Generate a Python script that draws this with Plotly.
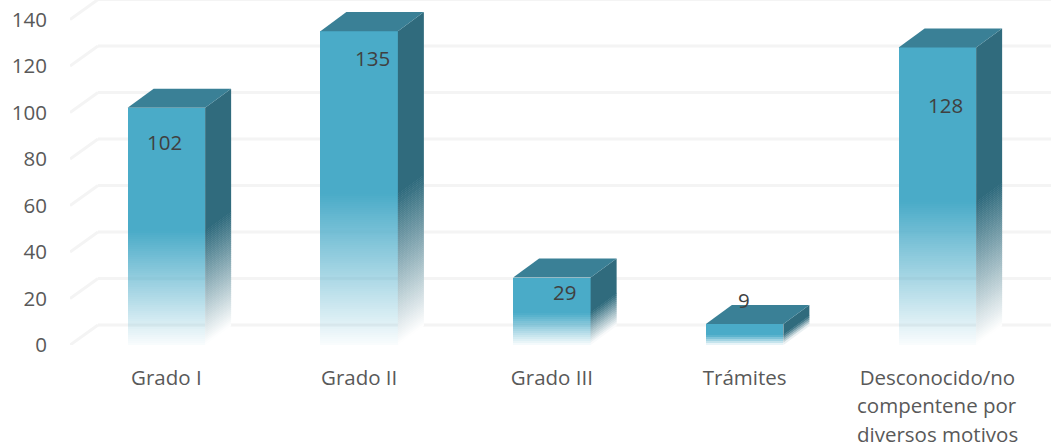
import plotly.graph_objects as go

categories = ["Grado I", "Grado II", "Grado III", "Trámites", "Desconocido/no"]
extra_lines = [[], [], [], [], ["compentene por", "diversos motivos"]]
values = [102, 135, 29, 9, 128]
y_ticks = [0, 20, 40, 60, 80, 100, 120, 140]
label_offsets = [(-2, 34), (13, 27), (13, 14), (-1, -24), (8, 58)]

W, H = 1051, 448
ML, MB = 70, 103
PX_X = 192.75
PX_Y = 2.325
X0, X1 = -0.5, -0.5 + (W - ML) / PX_X
Y1 = (H - MB) / PX_Y
BAR_W = 77.5 / PX_X
BAR_DX, BAR_DY = 26 / PX_X, 19 / PX_Y
WALL_DX, WALL_DY = 28 / PX_X, 20 / PX_Y
FADE_FROM = 0.48

FRONT = (74, 171, 200)
TOP = (58, 128, 150)
SIDE = (48, 107, 125)
TXT = "#595959"
FONT = "Open Sans"
FS = 20.5

fig = go.Figure()

# Front faces: solid upper part, stacked fading segments below
bx, by, bb, bc = [], [], [], []
for i, v in enumerate(values):
    fade_h = v * FADE_FROM
    n = max(3, round(fade_h * PX_Y / 2))
    for k in range(n):
        a = 0.03 + 0.97 * ((k + 0.5) / n)
        bx.append(i); bb.append(fade_h * k / n); by.append(fade_h / n)
        bc.append(f"rgba({FRONT[0]},{FRONT[1]},{FRONT[2]},{a:.3f})")
    bx.append(i); bb.append(fade_h); by.append(v - fade_h)
    bc.append(f"rgb({FRONT[0]},{FRONT[1]},{FRONT[2]})")
fig.add_trace(go.Bar(x=bx, y=by, base=bb, width=BAR_W, marker=dict(color=bc, line=dict(width=0)),
                     hoverinfo="skip", showlegend=False))


def poly(xs, ys, color):
    fig.add_trace(go.Scatter(x=xs, y=ys, mode="lines", fill="toself", fillcolor=color,
                             line=dict(width=0), hoverinfo="skip", showlegend=False))


def blend(c, a):
    return "rgb(%d,%d,%d)" % tuple(round(255 + (p - 255) * a) for p in c)


for i, v in enumerate(values):
    xr = i + BAR_W / 2
    xl = i - BAR_W / 2
    fade_h = v * FADE_FROM
    # side face
    n = max(3, round(fade_h * PX_Y / 2))
    poly([xr, xr + BAR_DX, xr + BAR_DX, xr], [fade_h, fade_h + BAR_DY, v + BAR_DY, v], blend(SIDE, 1))
    for k in range(n - 1, -1, -1):
        a = 0.0 + 1.0 * ((k + 0.5) / n)
        lo = fade_h * k / n
        hi = fade_h * (k + 1.25) / n
        poly([xr, xr + BAR_DX, xr + BAR_DX, xr], [lo, lo + BAR_DY, hi + BAR_DY, hi], blend(SIDE, a))
    # top face
    poly([xl, xl + BAR_DX, xr + BAR_DX, xr], [v, v + BAR_DY, v + BAR_DY, v],
         "rgb(%d,%d,%d)" % TOP)

shapes = []
for t in y_ticks:
    shapes.append(dict(type="line", xref="x", yref="y", layer="below",
                       x0=X0 + WALL_DX, x1=X1, y0=t + WALL_DY, y1=t + WALL_DY,
                       line=dict(color="#f4f4f4", width=3)))
    shapes.append(dict(type="line", xref="x", yref="y", layer="below",
                       x0=X0, x1=X0 + WALL_DX, y0=t, y1=t + WALL_DY,
                       line=dict(color="#f4f4f4", width=3)))

annotations = []
for i, v in enumerate(values):
    dx, dy = label_offsets[i]
    annotations.append(dict(x=i, y=v, xref="x", yref="y", text=str(v), showarrow=False,
                            xanchor="center", yanchor="middle", xshift=dx, yshift=-dy,
                            font=dict(family=FONT, size=FS, color="#404040")))
    for j, line in enumerate(extra_lines[i]):
        annotations.append(dict(x=i, y=0, xref="x", yref="y", text=line, showarrow=False,
                                xanchor="center", yanchor="middle", yshift=-(60 + 29 * j),
                                font=dict(family=FONT, size=FS, color=TXT)))

fig.update_layout(
    width=W, height=H, margin=dict(l=ML, r=0, t=0, b=MB),
    paper_bgcolor="white", plot_bgcolor="white", barmode="overlay", bargap=0,
    showlegend=False, shapes=shapes, annotations=annotations,
    xaxis=dict(range=[X0, X1], tickmode="array", tickvals=list(range(len(categories))),
               ticktext=categories, showgrid=False, zeroline=False, showline=False,
               ticks="outside", ticklen=14, tickcolor="rgba(0,0,0,0)",
               tickangle=0, tickfont=dict(family=FONT, size=FS, color=TXT)),
    yaxis=dict(range=[0, Y1], tickmode="array", tickvals=y_ticks, showgrid=False,
               zeroline=False, showline=False, ticks="outside", ticklen=18,
               tickcolor="rgba(0,0,0,0)", tickfont=dict(family=FONT, size=FS, color=TXT)),
)

fig.write_html("out.html", config={"displayModeBar": False},
               post_script="document.body.style.margin='0';")
